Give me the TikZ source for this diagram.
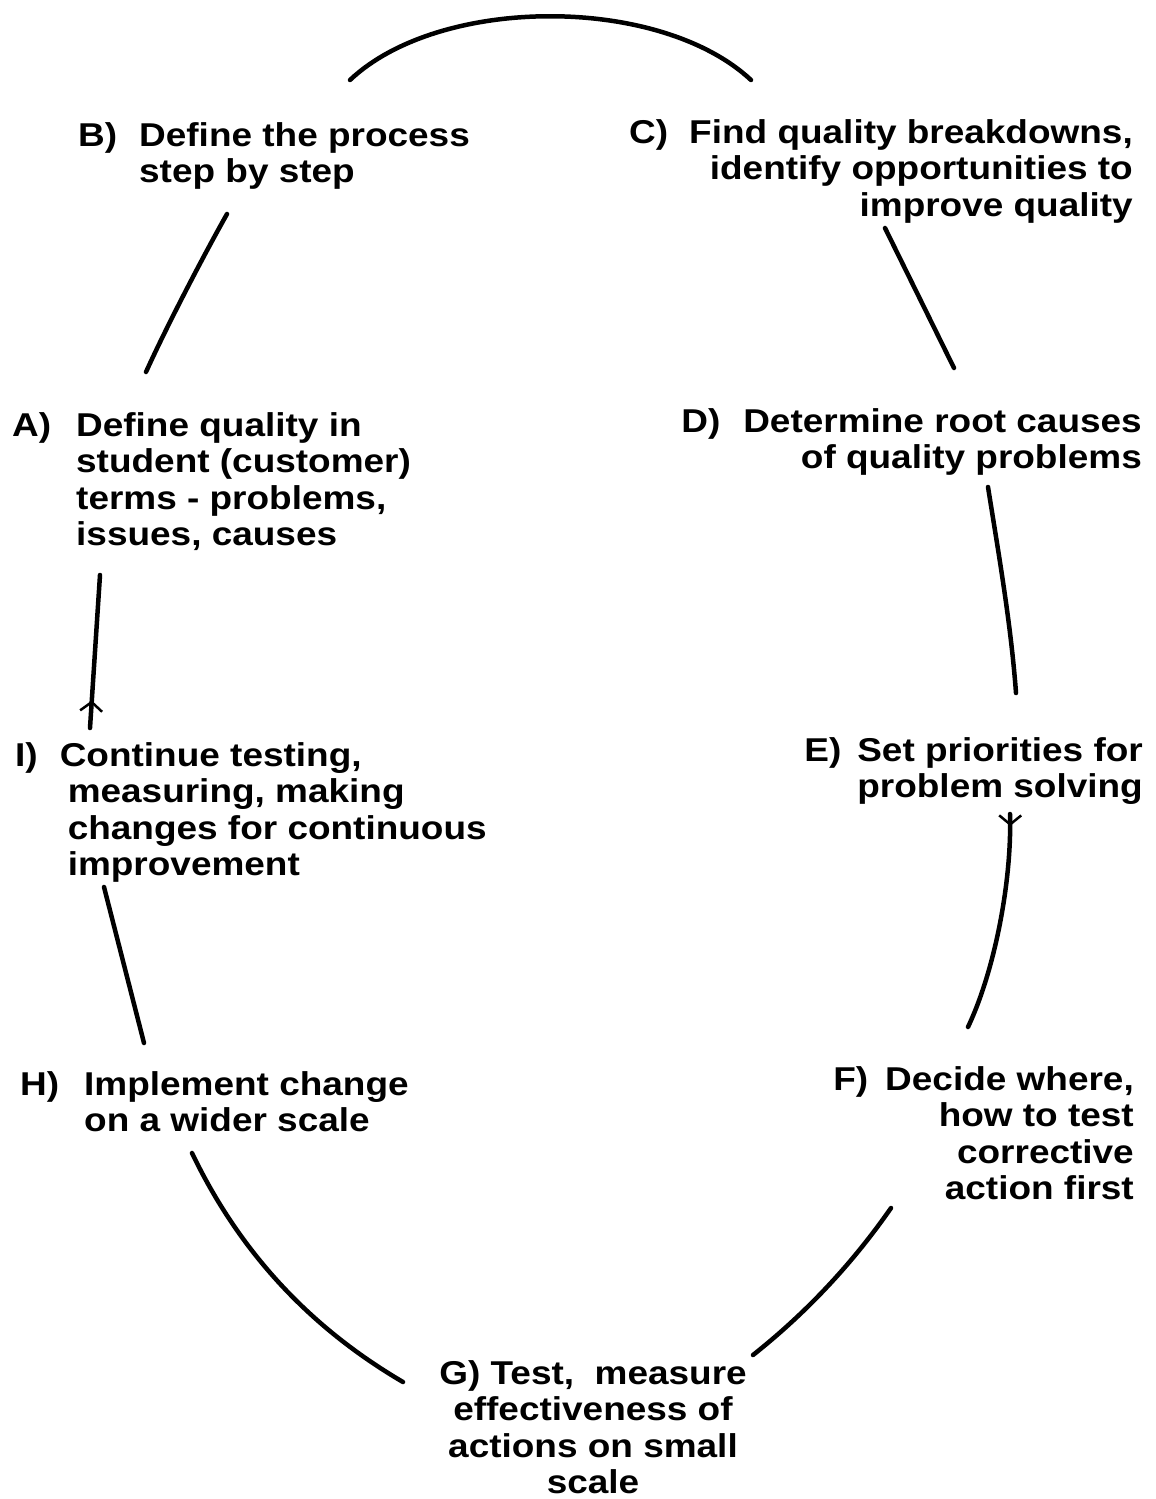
\documentclass[tikz,border=0pt]{standalone}
\usepackage{fontspec}
\newfontfamily\lblfont{Liberation Sans}[FakeStretch=1.12]
\usetikzlibrary{arrows.meta,decorations.markings}
\begin{document}
\begin{tikzpicture}[x=1pt,y=-1pt,
  txt/.style={inner sep=0pt, font=\lblfont\bfseries\fontsize{33}{36.5}\selectfont},
  link/.style={line width=4.5pt, line cap=round},
  dirmark/.style={postaction={decorate}, decoration={markings,
     mark=at position #1 with {\arrow[line width=2.5pt]{Straight Barb[length=9pt,width=22pt]}}}}
]
\useasboundingbox (0,0) rectangle (1156,1499);

% text blocks
\node[txt, anchor=base west] (B) at (78,146)
  {\begin{tabular}[t]{@{}l@{\hspace{22pt}}l@{}}B) & Define the process\\ & step by step\end{tabular}};
\node[txt, anchor=base east] (C) at (1133,143)
  {\begin{tabular}[t]{@{}l@{\hspace{21pt}}r@{}}C) & Find quality breakdowns,\\ & identify opportunities to\\ & improve quality\end{tabular}};
\node[txt, anchor=base west] (A) at (12,436)
  {\begin{tabular}[t]{@{}l@{\hspace{25pt}}l@{}}A) & Define quality in\\ & student (customer)\\ & terms - problems,\\ & issues, causes\end{tabular}};
\node[txt, anchor=base east] (D) at (1142,432)
  {\begin{tabular}[t]{@{}l@{\hspace{23pt}}r@{}}D) & Determine root causes\\ & of quality problems\end{tabular}};
\node[txt, anchor=base west] (I) at (15,766)
  {\begin{tabular}[t]{@{}l@{\hspace{22pt}}l@{}}I) & Continue testing,\\ & \hspace*{8pt}measuring, making\\ & \hspace*{8pt}changes for continuous\\ & \hspace*{8pt}improvement\end{tabular}};
\node[txt, anchor=base east] (E) at (1143,761)
  {\begin{tabular}[t]{@{}l@{\hspace{16pt}}r@{}}E) & Set priorities for\\ & problem solving\end{tabular}};
\node[txt, anchor=base west] (H) at (20,1095)
  {\begin{tabular}[t]{@{}l@{\hspace{25pt}}l@{}}H) & Implement change\\ & on a wider scale\end{tabular}};
\node[txt, anchor=base east] (F) at (1134,1090)
  {\begin{tabular}[t]{@{}l@{\hspace{17pt}}r@{}}F) & Decide where,\\ & how to test\\ & corrective\\ & action first\end{tabular}};
\node[txt, anchor=base] (G) at (593,1384)
  {\begin{tabular}[t]{@{}c@{}}G) Test,\ \ measure\\ effectiveness of\\ actions on small\\ scale\end{tabular}};

% connector end points
\coordinate (b1) at (350,80);   \coordinate (c1) at (751,80);
\coordinate (c2) at (885,228);  \coordinate (d1) at (954,368);
\coordinate (d2) at (988,487);  \coordinate (e1) at (1016,693);
\coordinate (e2) at (1010,814); \coordinate (f1) at (968,1027);
\coordinate (f2) at (891,1208); \coordinate (g1) at (753,1355);
\coordinate (h2) at (192,1153); \coordinate (g2) at (403,1382);
\coordinate (i2) at (104,887);  \coordinate (h1) at (144,1043);
\coordinate (i1) at (90,728);   \coordinate (a1) at (100,575);
\coordinate (a2) at (146,372);  \coordinate (b2) at (227,214);

% connectors
\draw[link] (a2) .. controls (165,330) and (200,262) .. (b2);
\draw[link] (b1) .. controls (440,-5) and (660,-5) .. (c1);
\draw[link] (c2) -- (d1);
\draw[link] (d2) .. controls (999,556) and (1011,625) .. (e1);
\draw[link, dirmark=12pt] (e2) .. controls (1012,880) and (995,970) .. (f1);
\draw[link] (f2) .. controls (852,1264) and (806,1313) .. (g1);
\draw[link] (h2) .. controls (239,1251) and (309,1327) .. (g2);
\draw[link] (i2) -- (h1);
\draw[link, dirmark=0.18] (i1) -- (a1);
\end{tikzpicture}
\end{document}
